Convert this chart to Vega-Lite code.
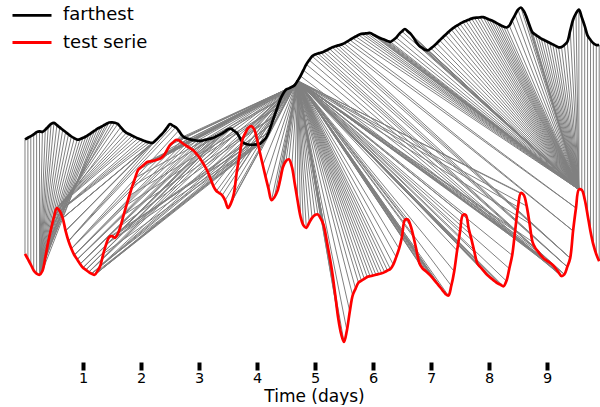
{
  "$schema": "https://vega.github.io/schema/vega-lite/v6.json",
  "width": 600,
  "height": 362,
  "padding": 0,
  "background": "white",
  "config": {
    "view": {"stroke": null},
    "font": "DejaVu Sans",
    "legend": {
      "orient": "none",
      "legendX": 11,
      "legendY": 5.3,
      "padding": 0,
      "symbolType": "stroke",
      "symbolSize": 1521,
      "symbolStrokeWidth": 2.8,
      "labelFontSize": 18,
      "labelFont": "DejaVu Sans",
      "labelColor": "#000000",
      "labelOffset": 10,
      "clipHeight": 20,
      "rowPadding": 7.2
    }
  },
  "data": {
    "values": [
      {"i":0,"j":0},{"i":1,"j":1},{"i":2,"j":2},{"i":3,"j":3},{"i":4,"j":4},{"i":5,"j":5},
      {"i":6,"j":5},{"i":7,"j":5},{"i":8,"j":5},{"i":9,"j":5},{"i":10,"j":5},{"i":11,"j":5},{"i":12,"j":5},{"i":13,"j":5},{"i":14,"j":5},{"i":15,"j":5},
      {"i":16,"j":5},{"i":17,"j":5},{"i":18,"j":5},{"i":19,"j":5},{"i":20,"j":5},{"i":21,"j":5},{"i":22,"j":5},{"i":23,"j":5},{"i":24,"j":5},
      {"i":25,"j":6},{"i":26,"j":7},{"i":27,"j":8},{"i":28,"j":8},{"i":29,"j":9},{"i":30,"j":9},{"i":31,"j":10},{"i":32,"j":10},{"i":33,"j":10},
      {"i":34,"j":11},{"i":35,"j":11},{"i":36,"j":11},{"i":37,"j":11},{"i":38,"j":11},{"i":39,"j":11},{"i":40,"j":12},{"i":41,"j":12},{"i":42,"j":12},{"i":43,"j":12},
      {"i":44,"j":13},{"i":45,"j":13},{"i":46,"j":13},{"i":47,"j":14},{"i":48,"j":14},{"i":49,"j":14},{"i":50,"j":15},{"i":51,"j":15},{"i":52,"j":15},
      {"i":53,"j":16},{"i":54,"j":16},{"i":55,"j":16},{"i":56,"j":17},{"i":57,"j":17},{"i":58,"j":17},{"i":59,"j":18},{"i":60,"j":18},{"i":61,"j":18},
      {"i":62,"j":19},{"i":63,"j":19},{"i":64,"j":19},{"i":65,"j":20},{"i":66,"j":20},{"i":67,"j":20},{"i":68,"j":21},{"i":69,"j":21},{"i":70,"j":21},
      {"i":71,"j":22},{"i":72,"j":22},{"i":73,"j":22},{"i":74,"j":23},{"i":75,"j":23},{"i":76,"j":23},{"i":77,"j":23},{"i":78,"j":24},{"i":79,"j":24},
      {"i":80,"j":24},{"i":81,"j":24},
      {"i":82,"j":25},{"i":82,"j":26},{"i":83,"j":27},{"i":83,"j":28},{"i":84,"j":29},{"i":84,"j":30},{"i":85,"j":31},{"i":85,"j":32},{"i":86,"j":33},
      {"i":86,"j":34},{"i":87,"j":35},{"i":87,"j":36},{"i":88,"j":37},{"i":88,"j":38},{"i":89,"j":39},{"i":90,"j":40},{"i":91,"j":41},
      {"i":92,"j":42},{"i":92,"j":43},{"i":92,"j":44},{"i":92,"j":45},{"i":92,"j":46},{"i":92,"j":47},{"i":92,"j":48},{"i":92,"j":49},{"i":92,"j":50},
      {"i":92,"j":51},{"i":92,"j":52},{"i":92,"j":53},{"i":92,"j":54},{"i":92,"j":55},{"i":92,"j":56},{"i":92,"j":57},
      {"i":93,"j":58},{"i":93,"j":59},{"i":93,"j":60},{"i":93,"j":61},{"i":93,"j":62},{"i":93,"j":63},{"i":93,"j":64},
      {"i":94,"j":65},{"i":94,"j":66},{"i":94,"j":67},{"i":94,"j":68},{"i":94,"j":69},{"i":94,"j":70},{"i":94,"j":71},{"i":94,"j":72},{"i":94,"j":73},
      {"i":94,"j":74},{"i":94,"j":75},{"i":94,"j":76},{"i":94,"j":77},{"i":94,"j":78},{"i":94,"j":79},{"i":94,"j":80},{"i":94,"j":81},{"i":94,"j":82},
      {"i":94,"j":83},{"i":94,"j":84},{"i":94,"j":85},{"i":94,"j":86},{"i":94,"j":87},{"i":94,"j":88},{"i":94,"j":89},{"i":94,"j":90},{"i":94,"j":91},
      {"i":94,"j":92},{"i":94,"j":93},{"i":94,"j":94},{"i":94,"j":95},{"i":94,"j":96},{"i":94,"j":97},{"i":94,"j":98},{"i":94,"j":99},{"i":94,"j":100},
      {"i":94,"j":101},{"i":94,"j":102},{"i":94,"j":103},{"i":94,"j":104},{"i":94,"j":105},{"i":94,"j":106},{"i":94,"j":107},{"i":94,"j":108},{"i":94,"j":109},
      {"i":94,"j":110},{"i":94,"j":111},{"i":94,"j":112},{"i":94,"j":113},{"i":94,"j":114},{"i":94,"j":115},{"i":94,"j":116},{"i":94,"j":117},{"i":94,"j":118},
      {"i":94,"j":119},{"i":94,"j":120},{"i":94,"j":121},{"i":94,"j":122},{"i":94,"j":123},{"i":94,"j":124},{"i":94,"j":125},{"i":94,"j":126},{"i":94,"j":127},
      {"i":94,"j":128},{"i":94,"j":129},{"i":94,"j":130},{"i":94,"j":131},{"i":94,"j":132},{"i":94,"j":133},{"i":94,"j":134},{"i":94,"j":135},{"i":94,"j":136},
      {"i":94,"j":137},{"i":94,"j":138},{"i":94,"j":139},{"i":94,"j":140},{"i":94,"j":141},{"i":94,"j":142},{"i":94,"j":143},{"i":94,"j":144},{"i":94,"j":145},
      {"i":94,"j":146},{"i":94,"j":147},{"i":94,"j":148},{"i":94,"j":149},{"i":94,"j":150},{"i":94,"j":151},{"i":94,"j":152},{"i":94,"j":153},{"i":94,"j":154},
      {"i":94,"j":155},{"i":94,"j":156},{"i":94,"j":157},{"i":94,"j":158},{"i":94,"j":159},{"i":94,"j":160},{"i":94,"j":161},{"i":94,"j":162},{"i":94,"j":163},
      {"i":94,"j":164},{"i":94,"j":165},{"i":94,"j":166},{"i":94,"j":167},{"i":94,"j":168},{"i":94,"j":169},{"i":94,"j":170},{"i":94,"j":171},{"i":94,"j":172},
      {"i":94,"j":173},{"i":94,"j":174},{"i":94,"j":175},{"i":94,"j":176},{"i":94,"j":177},{"i":94,"j":178},{"i":94,"j":179},{"i":94,"j":180},{"i":94,"j":181},
      {"i":94,"j":182},{"i":94,"j":183},
      {"i":95,"j":184},{"i":96,"j":184},{"i":97,"j":185},{"i":98,"j":185},{"i":99,"j":185},{"i":100,"j":186},{"i":101,"j":186},{"i":102,"j":186},
      {"i":103,"j":187},{"i":104,"j":187},{"i":105,"j":187},{"i":106,"j":188},{"i":107,"j":188},{"i":108,"j":188},{"i":109,"j":189},{"i":110,"j":189},
      {"i":111,"j":190},{"i":112,"j":190},
      {"i":113,"j":191},{"i":114,"j":191},{"i":115,"j":191},{"i":116,"j":191},{"i":117,"j":191},{"i":118,"j":191},{"i":119,"j":191},{"i":120,"j":191},
      {"i":121,"j":191},{"i":122,"j":191},{"i":123,"j":191},{"i":124,"j":191},{"i":125,"j":191},{"i":126,"j":191},{"i":127,"j":191},{"i":128,"j":191},
      {"i":129,"j":191},{"i":130,"j":191},{"i":131,"j":191},{"i":132,"j":191},{"i":133,"j":191},{"i":134,"j":191},{"i":135,"j":191},{"i":136,"j":191},
      {"i":137,"j":191},{"i":138,"j":191},{"i":139,"j":191},{"i":140,"j":191},{"i":141,"j":191},{"i":142,"j":191},{"i":143,"j":191},{"i":144,"j":191},
      {"i":145,"j":191},{"i":146,"j":191},{"i":147,"j":191},{"i":148,"j":191},{"i":149,"j":191},{"i":150,"j":191},{"i":151,"j":191},{"i":152,"j":191},
      {"i":153,"j":191},{"i":154,"j":191},{"i":155,"j":191},{"i":156,"j":191},{"i":157,"j":191},{"i":158,"j":191},{"i":159,"j":191},{"i":160,"j":191},
      {"i":161,"j":191},{"i":162,"j":191},{"i":163,"j":191},{"i":164,"j":191},{"i":165,"j":191},{"i":166,"j":191},{"i":167,"j":191},{"i":168,"j":191},
      {"i":169,"j":191},{"i":170,"j":191},{"i":171,"j":191},{"i":172,"j":191},{"i":173,"j":191},{"i":174,"j":191},{"i":175,"j":191},{"i":176,"j":191},
      {"i":177,"j":191},{"i":178,"j":191},{"i":179,"j":191},{"i":180,"j":191},{"i":181,"j":191},{"i":182,"j":191},{"i":183,"j":191},{"i":184,"j":191},
      {"i":185,"j":191},{"i":186,"j":191},{"i":187,"j":191},{"i":188,"j":191},{"i":189,"j":191},{"i":190,"j":191},{"i":191,"j":191},
      {"i":192,"j":192},{"i":193,"j":193},{"i":194,"j":194},{"i":195,"j":195},{"i":196,"j":196},{"i":197,"j":197},{"i":198,"j":198}
    ]
  },
  "transform": [
    {"lookup": "i", "from": {"key": "k", "fields": ["t", "v"], "data": {"values": [
      {"k":0,"t":0,"v":222.6},{"k":1,"t":0.05,"v":224.2},{"k":2,"t":0.1,"v":225.8},{"k":3,"t":0.15,"v":227.6},{"k":4,"t":0.2,"v":229.9},
      {"k":5,"t":0.25,"v":230.7},{"k":6,"t":0.3,"v":230.1},{"k":7,"t":0.35,"v":232.3},{"k":8,"t":0.4,"v":235.2},{"k":9,"t":0.45,"v":238.1},
      {"k":10,"t":0.5,"v":239.2},{"k":11,"t":0.55,"v":236.9},{"k":12,"t":0.6,"v":234.6},{"k":13,"t":0.65,"v":232.2},{"k":14,"t":0.7,"v":230.0},
      {"k":15,"t":0.75,"v":227.7},{"k":16,"t":0.8,"v":225.5},{"k":17,"t":0.85,"v":223.8},{"k":18,"t":0.9,"v":222.4},{"k":19,"t":0.95,"v":222.9},
      {"k":20,"t":1.0,"v":224.2},{"k":21,"t":1.05,"v":225.5},{"k":22,"t":1.1,"v":227.3},{"k":23,"t":1.15,"v":229.3},{"k":24,"t":1.2,"v":231.3},
      {"k":25,"t":1.25,"v":233.3},{"k":26,"t":1.3,"v":234.8},{"k":27,"t":1.35,"v":236.4},{"k":28,"t":1.4,"v":238.0},{"k":29,"t":1.45,"v":239.5},
      {"k":30,"t":1.5,"v":239.7},{"k":31,"t":1.55,"v":239.3},{"k":32,"t":1.6,"v":238.1},{"k":33,"t":1.65,"v":234.8},{"k":34,"t":1.7,"v":231.6},
      {"k":35,"t":1.75,"v":229.2},{"k":36,"t":1.8,"v":227.8},{"k":37,"t":1.85,"v":226.3},{"k":38,"t":1.9,"v":224.9},{"k":39,"t":1.95,"v":223.6},
      {"k":40,"t":2.0,"v":222.4},{"k":41,"t":2.05,"v":221.2},{"k":42,"t":2.1,"v":220.1},{"k":43,"t":2.15,"v":219.5},{"k":44,"t":2.2,"v":219.1},
      {"k":45,"t":2.25,"v":221.5},{"k":46,"t":2.3,"v":224.4},{"k":47,"t":2.35,"v":227.3},{"k":48,"t":2.4,"v":230.5},{"k":49,"t":2.45,"v":234.3},
      {"k":50,"t":2.5,"v":238.0},{"k":51,"t":2.55,"v":236.3},{"k":52,"t":2.6,"v":234.7},{"k":53,"t":2.65,"v":231.4},{"k":54,"t":2.7,"v":227.1},
      {"k":55,"t":2.75,"v":224.5},{"k":56,"t":2.8,"v":223.5},{"k":57,"t":2.85,"v":222.6},{"k":58,"t":2.9,"v":221.8},{"k":59,"t":2.95,"v":221.5},
      {"k":60,"t":3.0,"v":221.1},{"k":61,"t":3.05,"v":221.4},{"k":62,"t":3.1,"v":222.1},{"k":63,"t":3.15,"v":222.7},{"k":64,"t":3.2,"v":223.4},
      {"k":65,"t":3.25,"v":224.2},{"k":66,"t":3.3,"v":225.7},{"k":67,"t":3.35,"v":227.1},{"k":68,"t":3.4,"v":228.6},{"k":69,"t":3.45,"v":230.5},
      {"k":70,"t":3.5,"v":232.6},{"k":71,"t":3.55,"v":233.4},{"k":72,"t":3.6,"v":231.3},{"k":73,"t":3.65,"v":229.2},{"k":74,"t":3.7,"v":224.7},
      {"k":75,"t":3.75,"v":219.8},{"k":76,"t":3.8,"v":218.3},{"k":77,"t":3.85,"v":217.5},{"k":78,"t":3.9,"v":217.1},{"k":79,"t":3.95,"v":217.4},
      {"k":80,"t":4.0,"v":217.7},{"k":81,"t":4.05,"v":218.0},{"k":82,"t":4.1,"v":220.8},{"k":83,"t":4.15,"v":223.7},{"k":84,"t":4.2,"v":229.5},
      {"k":85,"t":4.25,"v":237.7},{"k":86,"t":4.3,"v":246.0},{"k":87,"t":4.35,"v":254.3},{"k":88,"t":4.4,"v":262.4},{"k":89,"t":4.45,"v":268.2},
      {"k":90,"t":4.5,"v":272.4},{"k":91,"t":4.55,"v":273.6},{"k":92,"t":4.6,"v":275.1},{"k":93,"t":4.65,"v":276.8},{"k":94,"t":4.7,"v":281.2},
      {"k":95,"t":4.75,"v":286.0},{"k":96,"t":4.8,"v":291.8},{"k":97,"t":4.85,"v":297.6},{"k":98,"t":4.9,"v":301.9},{"k":99,"t":4.95,"v":305.8},
      {"k":100,"t":5.0,"v":307.6},{"k":101,"t":5.05,"v":308.5},{"k":102,"t":5.1,"v":309.3},{"k":103,"t":5.15,"v":310.3},{"k":104,"t":5.2,"v":311.8},
      {"k":105,"t":5.25,"v":313.2},{"k":106,"t":5.3,"v":314.7},{"k":107,"t":5.35,"v":315.7},{"k":108,"t":5.4,"v":316.6},{"k":109,"t":5.45,"v":317.4},
      {"k":110,"t":5.5,"v":318.6},{"k":111,"t":5.55,"v":320.3},{"k":112,"t":5.6,"v":322.1},{"k":113,"t":5.65,"v":323.8},{"k":114,"t":5.7,"v":325.5},
      {"k":115,"t":5.75,"v":327.1},{"k":116,"t":5.8,"v":328.1},{"k":117,"t":5.85,"v":328.4},{"k":118,"t":5.9,"v":328.7},{"k":119,"t":5.95,"v":329.0},
      {"k":120,"t":6.0,"v":327.5},{"k":121,"t":6.05,"v":326.0},{"k":122,"t":6.1,"v":324.6},{"k":123,"t":6.15,"v":323.3},{"k":124,"t":6.2,"v":322.2},
      {"k":125,"t":6.25,"v":321.0},{"k":126,"t":6.3,"v":320.2},{"k":127,"t":6.35,"v":322.0},{"k":128,"t":6.4,"v":324.4},{"k":129,"t":6.45,"v":327.9},
      {"k":130,"t":6.5,"v":330.6},{"k":131,"t":6.55,"v":333.0},{"k":132,"t":6.6,"v":330.6},{"k":133,"t":6.65,"v":328.1},{"k":134,"t":6.7,"v":324.3},
      {"k":135,"t":6.75,"v":319.5},{"k":136,"t":6.8,"v":316.1},{"k":137,"t":6.85,"v":314.1},{"k":138,"t":6.9,"v":312.2},{"k":139,"t":6.95,"v":311.7},
      {"k":140,"t":7.0,"v":313.7},{"k":141,"t":7.05,"v":315.9},{"k":142,"t":7.1,"v":318.8},{"k":143,"t":7.15,"v":321.7},{"k":144,"t":7.2,"v":324.6},
      {"k":145,"t":7.25,"v":327.2},{"k":146,"t":7.3,"v":329.9},{"k":147,"t":7.35,"v":332.5},{"k":148,"t":7.4,"v":334.7},{"k":149,"t":7.45,"v":336.5},
      {"k":150,"t":7.5,"v":338.2},{"k":151,"t":7.55,"v":339.9},{"k":152,"t":7.6,"v":341.1},{"k":153,"t":7.65,"v":342.3},{"k":154,"t":7.7,"v":343.4},
      {"k":155,"t":7.75,"v":344.1},{"k":156,"t":7.8,"v":344.4},{"k":157,"t":7.85,"v":344.7},{"k":158,"t":7.9,"v":344.9},{"k":159,"t":7.95,"v":343.8},
      {"k":160,"t":8.0,"v":342.6},{"k":161,"t":8.05,"v":341.4},{"k":162,"t":8.1,"v":340.0},{"k":163,"t":8.15,"v":338.4},{"k":164,"t":8.2,"v":336.8},
      {"k":165,"t":8.25,"v":335.5},{"k":166,"t":8.3,"v":334.5},{"k":167,"t":8.35,"v":336.4},{"k":168,"t":8.4,"v":341.8},{"k":169,"t":8.45,"v":347.2},
      {"k":170,"t":8.5,"v":352.3},{"k":171,"t":8.55,"v":354.5},{"k":172,"t":8.6,"v":351.0},{"k":173,"t":8.65,"v":344.4},{"k":174,"t":8.7,"v":336.5},
      {"k":175,"t":8.75,"v":329.6},{"k":176,"t":8.8,"v":327.4},{"k":177,"t":8.85,"v":325.3},{"k":178,"t":8.9,"v":323.4},{"k":179,"t":8.95,"v":322.0},
      {"k":180,"t":9.0,"v":320.5},{"k":181,"t":9.05,"v":319.0},{"k":182,"t":9.1,"v":317.6},{"k":183,"t":9.15,"v":316.1},{"k":184,"t":9.2,"v":314.7},
      {"k":185,"t":9.25,"v":315.1},{"k":186,"t":9.3,"v":317.1},{"k":187,"t":9.35,"v":320.2},{"k":188,"t":9.4,"v":331.3},{"k":189,"t":9.45,"v":342.2},
      {"k":190,"t":9.5,"v":348.6},{"k":191,"t":9.55,"v":352.5},{"k":192,"t":9.6,"v":344.6},{"k":193,"t":9.65,"v":336.2},{"k":194,"t":9.7,"v":326.4},
      {"k":195,"t":9.75,"v":322.1},{"k":196,"t":9.8,"v":318.8},{"k":197,"t":9.85,"v":317.0},{"k":198,"t":9.9,"v":317.0}
    ]}}, "as": ["t1", "v1"]},
    {"lookup": "j", "from": {"key": "k", "fields": ["t", "v"], "data": {"values": [
      {"k":0,"t":0,"v":108.2},{"k":1,"t":0.05,"v":102.8},{"k":2,"t":0.1,"v":97.4},{"k":3,"t":0.15,"v":91.6},{"k":4,"t":0.2,"v":88.4},
      {"k":5,"t":0.25,"v":87.2},{"k":6,"t":0.3,"v":91.0},{"k":7,"t":0.35,"v":104.4},{"k":8,"t":0.4,"v":119.9},{"k":9,"t":0.45,"v":133.3},
      {"k":10,"t":0.5,"v":145.0},{"k":11,"t":0.55,"v":154.0},{"k":12,"t":0.6,"v":151.0},{"k":13,"t":0.65,"v":143.9},{"k":14,"t":0.7,"v":131.2},
      {"k":15,"t":0.75,"v":121.0},{"k":16,"t":0.8,"v":113.3},{"k":17,"t":0.85,"v":107.0},{"k":18,"t":0.9,"v":102.5},{"k":19,"t":0.95,"v":98.0},
      {"k":20,"t":1.0,"v":94.2},{"k":21,"t":1.05,"v":92.1},{"k":22,"t":1.1,"v":89.9},{"k":23,"t":1.15,"v":88.3},{"k":24,"t":1.2,"v":87.2},
      {"k":25,"t":1.25,"v":91.0},{"k":26,"t":1.3,"v":96.6},{"k":27,"t":1.35,"v":108.2},{"k":28,"t":1.4,"v":117.9},{"k":29,"t":1.45,"v":124.8},
      {"k":30,"t":1.5,"v":125.8},{"k":31,"t":1.55,"v":124.1},{"k":32,"t":1.6,"v":128.2},{"k":33,"t":1.65,"v":136.2},{"k":34,"t":1.7,"v":146.9},
      {"k":35,"t":1.75,"v":156.9},{"k":36,"t":1.8,"v":166.5},{"k":37,"t":1.85,"v":175.8},{"k":38,"t":1.9,"v":184.1},{"k":39,"t":1.95,"v":192.1},
      {"k":40,"t":2.0,"v":194.7},{"k":41,"t":2.05,"v":197.2},{"k":42,"t":2.1,"v":199.8},{"k":43,"t":2.15,"v":200.5},{"k":44,"t":2.2,"v":201.1},
      {"k":45,"t":2.25,"v":201.7},{"k":46,"t":2.3,"v":202.7},{"k":47,"t":2.35,"v":204.1},{"k":48,"t":2.4,"v":207.1},{"k":49,"t":2.45,"v":212.0},
      {"k":50,"t":2.5,"v":217.0},{"k":51,"t":2.55,"v":219.5},{"k":52,"t":2.6,"v":222.0},{"k":53,"t":2.65,"v":221.7},{"k":54,"t":2.7,"v":219.5},
      {"k":55,"t":2.75,"v":217.4},{"k":56,"t":2.8,"v":215.5},{"k":57,"t":2.85,"v":213.7},{"k":58,"t":2.9,"v":211.8},{"k":59,"t":2.95,"v":208.5},
      {"k":60,"t":3.0,"v":205.1},{"k":61,"t":3.05,"v":200.7},{"k":62,"t":3.1,"v":195.8},{"k":63,"t":3.15,"v":190.2},{"k":64,"t":3.2,"v":183.0},
      {"k":65,"t":3.25,"v":175.7},{"k":66,"t":3.3,"v":171.0},{"k":67,"t":3.35,"v":168.9},{"k":68,"t":3.4,"v":166.7},{"k":69,"t":3.45,"v":161.7},
      {"k":70,"t":3.5,"v":154.0},{"k":71,"t":3.55,"v":158.6},{"k":72,"t":3.6,"v":167.9},{"k":73,"t":3.65,"v":189.4},{"k":74,"t":3.7,"v":207.3},
      {"k":75,"t":3.75,"v":222.4},{"k":76,"t":3.8,"v":229.1},{"k":77,"t":3.85,"v":234.1},{"k":78,"t":3.9,"v":235.8},{"k":79,"t":3.95,"v":232.9},
      {"k":80,"t":4.0,"v":222.8},{"k":81,"t":4.05,"v":209.5},{"k":82,"t":4.1,"v":197.0},{"k":83,"t":4.15,"v":184.6},{"k":84,"t":4.2,"v":172.9},
      {"k":85,"t":4.25,"v":161.9},{"k":86,"t":4.3,"v":164.8},{"k":87,"t":4.35,"v":170.6},{"k":88,"t":4.4,"v":182.1},{"k":89,"t":4.45,"v":195.2},
      {"k":90,"t":4.5,"v":201.0},{"k":91,"t":4.55,"v":202.7},{"k":92,"t":4.6,"v":195.5},{"k":93,"t":4.65,"v":178.8},{"k":94,"t":4.7,"v":161.4},
      {"k":95,"t":4.75,"v":145.5},{"k":96,"t":4.8,"v":136.8},{"k":97,"t":4.85,"v":134.2},{"k":98,"t":4.9,"v":139.2},{"k":99,"t":4.95,"v":144.1},
      {"k":100,"t":5.0,"v":147.0},{"k":101,"t":5.05,"v":147.6},{"k":102,"t":5.1,"v":143.3},{"k":103,"t":5.15,"v":136.5},{"k":104,"t":5.2,"v":122.0},
      {"k":105,"t":5.25,"v":106.0},{"k":106,"t":5.3,"v":88.6},{"k":107,"t":5.35,"v":66.6},{"k":108,"t":5.4,"v":43.9},{"k":109,"t":5.45,"v":28.3},
      {"k":110,"t":5.5,"v":20.0},{"k":111,"t":5.55,"v":31.6},{"k":112,"t":5.6,"v":50.5},{"k":113,"t":5.65,"v":66.6},{"k":114,"t":5.7,"v":73.4},
      {"k":115,"t":5.75,"v":79.3},{"k":116,"t":5.8,"v":81.3},{"k":117,"t":5.85,"v":83.2},{"k":118,"t":5.9,"v":85.1},{"k":119,"t":5.95,"v":85.8},
      {"k":120,"t":6.0,"v":86.5},{"k":121,"t":6.05,"v":87.2},{"k":122,"t":6.1,"v":88.0},{"k":123,"t":6.15,"v":88.7},{"k":124,"t":6.2,"v":89.9},
      {"k":125,"t":6.25,"v":91.5},{"k":126,"t":6.3,"v":92.9},{"k":127,"t":6.35,"v":97.4},{"k":128,"t":6.4,"v":104.9},{"k":129,"t":6.45,"v":113.3},
      {"k":130,"t":6.5,"v":125.3},{"k":131,"t":6.55,"v":142.0},{"k":132,"t":6.6,"v":142.5},{"k":133,"t":6.65,"v":136.0},{"k":134,"t":6.7,"v":124.8},
      {"k":135,"t":6.75,"v":111.7},{"k":136,"t":6.8,"v":98.7},{"k":137,"t":6.85,"v":93.9},{"k":138,"t":6.9,"v":91.3},{"k":139,"t":6.95,"v":88.7},
      {"k":140,"t":7.0,"v":85.8},{"k":141,"t":7.05,"v":82.3},{"k":142,"t":7.1,"v":78.8},{"k":143,"t":7.15,"v":75.4},{"k":144,"t":7.2,"v":71.7},
      {"k":145,"t":7.25,"v":68.1},{"k":146,"t":7.3,"v":66.4},{"k":147,"t":7.35,"v":76.2},{"k":148,"t":7.4,"v":90.6},{"k":149,"t":7.45,"v":111.4},
      {"k":150,"t":7.5,"v":130.0},{"k":151,"t":7.55,"v":147.0},{"k":152,"t":7.6,"v":147.0},{"k":153,"t":7.65,"v":133.5},{"k":154,"t":7.7,"v":122.1},
      {"k":155,"t":7.75,"v":109.7},{"k":156,"t":7.8,"v":98.5},{"k":157,"t":7.85,"v":95.0},{"k":158,"t":7.9,"v":91.6},{"k":159,"t":7.95,"v":88.1},
      {"k":160,"t":8.0,"v":85.4},{"k":161,"t":8.05,"v":83.1},{"k":162,"t":8.1,"v":80.8},{"k":163,"t":8.15,"v":78.6},{"k":164,"t":8.2,"v":77.2},
      {"k":165,"t":8.25,"v":75.7},{"k":166,"t":8.3,"v":81.0},{"k":167,"t":8.35,"v":93.4},{"k":168,"t":8.4,"v":106.7},{"k":169,"t":8.45,"v":130.8},
      {"k":170,"t":8.5,"v":155.0},{"k":171,"t":8.55,"v":169.0},{"k":172,"t":8.6,"v":167.0},{"k":173,"t":8.65,"v":155.9},{"k":174,"t":8.7,"v":138.5},
      {"k":175,"t":8.75,"v":120.2},{"k":176,"t":8.8,"v":113.9},{"k":177,"t":8.85,"v":110.1},{"k":178,"t":8.9,"v":106.3},{"k":179,"t":8.95,"v":103.2},
      {"k":180,"t":9.0,"v":101.2},{"k":181,"t":9.05,"v":99.2},{"k":182,"t":9.1,"v":97.1},{"k":183,"t":9.15,"v":93.5},{"k":184,"t":9.2,"v":89.7},
      {"k":185,"t":9.25,"v":86.0},{"k":186,"t":9.3,"v":87.6},{"k":187,"t":9.35,"v":95.1},{"k":188,"t":9.4,"v":103.9},{"k":189,"t":9.45,"v":131.1},
      {"k":190,"t":9.5,"v":154.0},{"k":191,"t":9.55,"v":172.5},{"k":192,"t":9.6,"v":172.0},{"k":193,"t":9.65,"v":162.7},{"k":194,"t":9.7,"v":147.1},
      {"k":195,"t":9.75,"v":130.6},{"k":196,"t":9.8,"v":117.3},{"k":197,"t":9.85,"v":107.7},{"k":198,"t":9.9,"v":100.8}
    ]}}, "as": ["t2", "v2"]}
  ],
  "encoding": {
    "x": {"type": "quantitative", "title": "Time (days)",
          "scale": {"domain": [-0.431, 9.914], "nice": false, "zero": false},
          "axis": {"values": [1,2,3,4,5,6,7,8,9], "domain": false, "grid": false, "tickSize": 8, "tickWidth": 4, "tickColor": "#000000", "labelPadding": 1, "labelFontSize": 14.5, "labelColor": "#000000", "labelFont": "DejaVu Sans", "titleFont": "DejaVu Sans", "titleFontSize": 17, "titleFontWeight": "normal", "titleColor": "#000000", "titleX": 314, "titleY": 39.5, "titleBaseline": "alphabetic", "titleAlign": "center"}},
    "y": {"type": "quantitative", "scale": {"domain": [0, 362], "nice": false, "zero": false}, "axis": null}
  },
  "layer": [
    {
      "mark": {"type": "rule", "color": "#808080", "strokeWidth": 1},
      "encoding": {
        "x": {"field": "t1"},
        "y": {"field": "v1"},
        "x2": {"field": "t2"},
        "y2": {"field": "v2"}
      }
    },
    {
      "transform": [{"aggregate": [{"op": "count", "as": "n"}], "groupby": ["t1", "v1"]}],
      "mark": {"type": "line", "strokeWidth": 2.7, "interpolate": "catmull-rom", "strokeJoin": "round"},
      "encoding": {
        "x": {"field": "t1"},
        "y": {"field": "v1"},
        "color": {"datum": "farthest", "type": "nominal", "title": null,
                  "scale": {"domain": ["farthest", "test serie"], "range": ["#000000", "#ff0000"]}}
      }
    },
    {
      "transform": [{"aggregate": [{"op": "count", "as": "n"}], "groupby": ["t2", "v2"]}],
      "mark": {"type": "line", "strokeWidth": 2.7, "interpolate": "catmull-rom", "strokeJoin": "round"},
      "encoding": {
        "x": {"field": "t2"},
        "y": {"field": "v2"},
        "color": {"datum": "test serie", "type": "nominal", "title": null,
                  "scale": {"domain": ["farthest", "test serie"], "range": ["#000000", "#ff0000"]}}
      }
    }
  ]
}
